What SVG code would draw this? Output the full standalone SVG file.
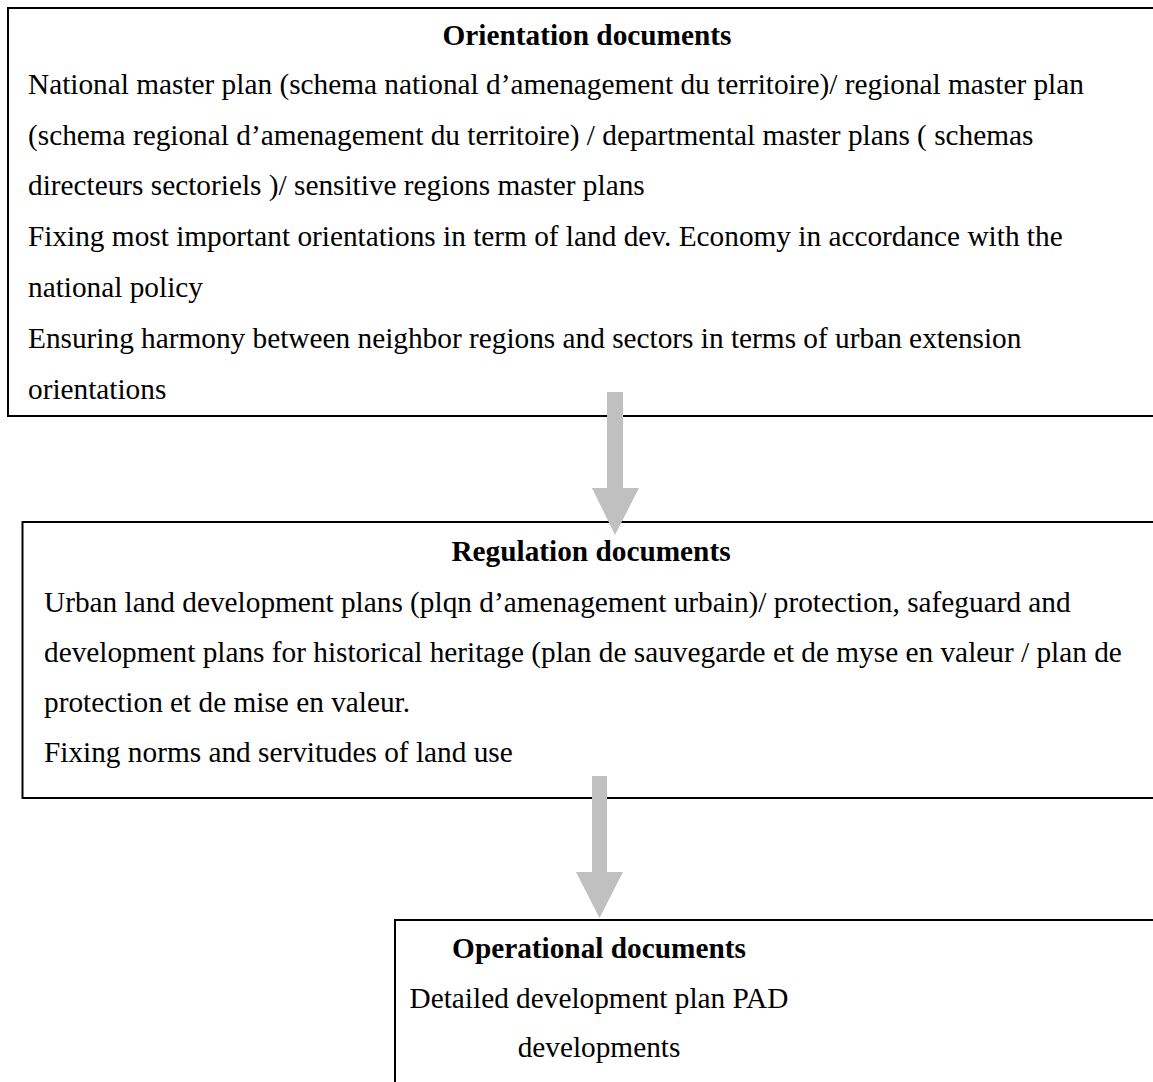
<svg xmlns="http://www.w3.org/2000/svg" width="1153" height="1082" viewBox="0 0 1153 1082">
<style>
.box{fill:none;stroke:#000;stroke-width:2}
.t{font-family:"Liberation Serif","Times New Roman",serif;font-size:29.3px;fill:#000}
.b{font-weight:bold}
.c{text-anchor:middle}
.arr{fill:#c0c0c0}
</style>
<rect width="1153" height="1082" fill="#fff"/>
<g id="orientation">
<rect class="box" x="8" y="8" width="1160" height="408"/>
<text class="t b c" x="587" y="45">Orientation documents</text>
<text class="t" x="28" y="94">National master plan (schema national d’amenagement du territoire)/ regional master plan</text>
<text class="t" x="28" y="145">(schema regional d’amenagement du territoire) / departmental master plans ( schemas</text>
<text class="t" x="28" y="195">directeurs sectoriels )/ sensitive regions master plans</text>
<text class="t" x="28" y="246">Fixing most important orientations in term of land dev. Economy in accordance with the</text>
<text class="t" x="28" y="297">national policy</text>
<text class="t" x="28" y="348">Ensuring harmony between neighbor regions and sectors in terms of urban extension</text>
<text class="t" x="28" y="399">orientations</text>
</g>
<g id="regulation">
<rect class="box" x="22.5" y="522" width="1160" height="276"/>
<text class="t b c" x="591" y="561">Regulation documents</text>
<text class="t" x="44" y="612">Urban land development plans (plqn d’amenagement urbain)/ protection, safeguard and</text>
<text class="t" x="44" y="662">development plans for historical heritage (plan de sauvegarde et de myse en valeur / plan de</text>
<text class="t" x="44" y="712">protection et de mise en valeur.</text>
<text class="t" x="44" y="762">Fixing norms and servitudes of land use</text>
</g>
<g id="operational">
<rect class="box" x="395" y="920" width="800" height="200"/>
<text class="t b c" x="599" y="958">Operational documents</text>
<text class="t c" x="599" y="1008">Detailed development plan PAD</text>
<text class="t c" x="599" y="1057">developments</text>
</g>
<g id="connectors">
<polygon class="arr" points="607,392 623,392 623,488 639,488 615,535 592,488 607,488"/>
<polygon class="arr" points="592,776 607,776 607,872 623,872 599.5,918 576,872 592,872"/>
</g>
</svg>
